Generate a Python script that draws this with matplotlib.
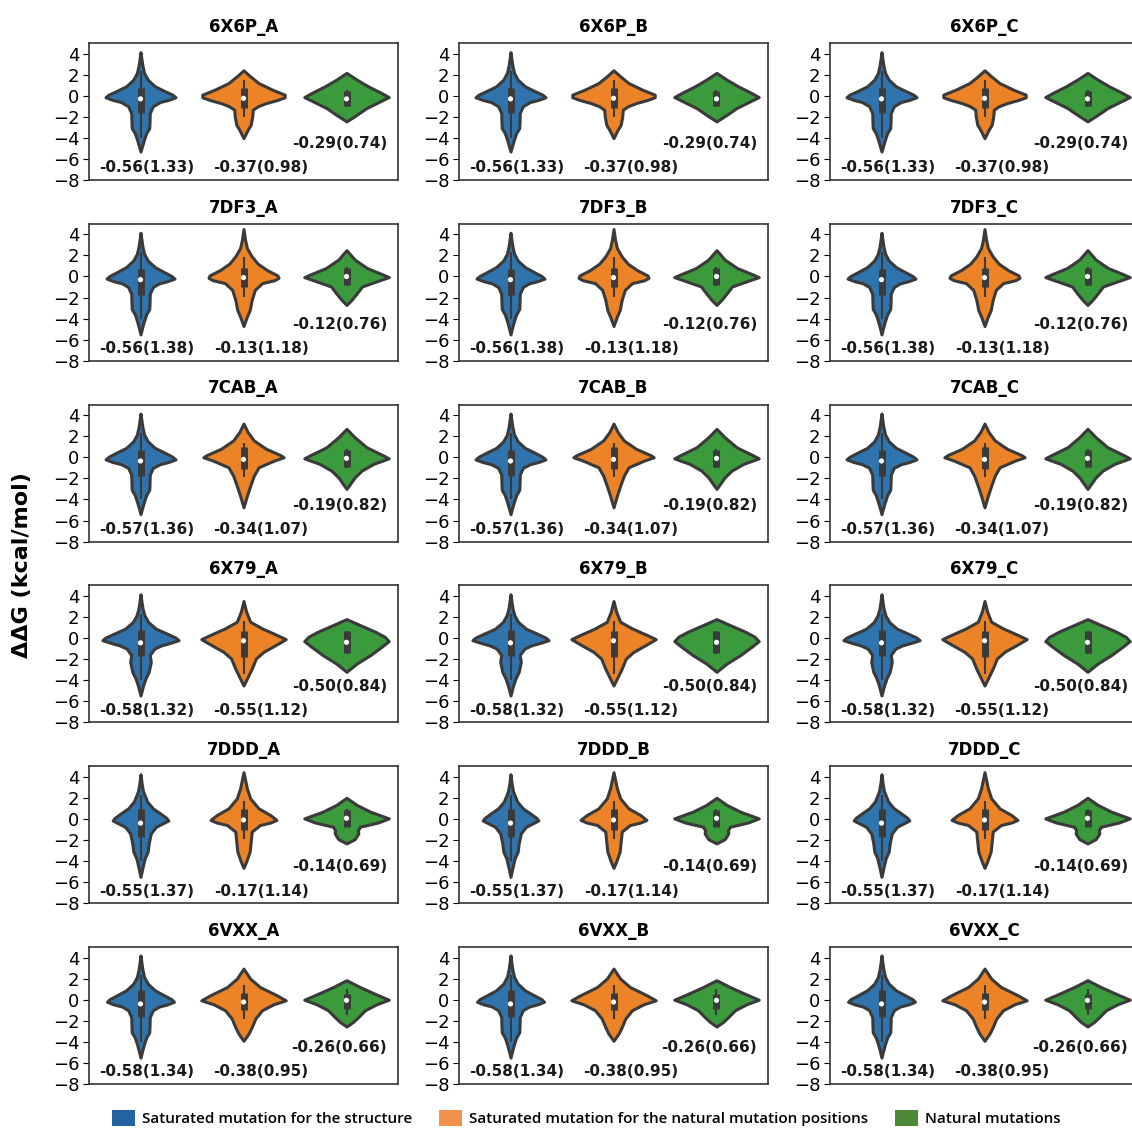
import matplotlib
matplotlib.use("Agg")
import matplotlib.pyplot as plt
from matplotlib.patches import Patch

# structures (rows) and chains (columns)
structures = ["6X6P", "7DF3", "7CAB", "6X79", "7DDD", "6VXX"]
chains = ["A", "B", "C"]

groups = ["Saturated mutation for the structure",
          "Saturated mutation for the natural mutation positions",
          "Natural mutations"]
violin_colors = ["#2f74ad", "#ec8427", "#3b9a3b"]
legend_colors = ["#2462a2", "#f0914c", "#4e8a36"]

# mean(std) of ddG per group
means = {
    "6X6P": [-0.56, -0.37, -0.29],
    "7DF3": [-0.56, -0.13, -0.12],
    "7CAB": [-0.57, -0.34, -0.19],
    "6X79": [-0.58, -0.55, -0.50],
    "7DDD": [-0.55, -0.17, -0.14],
    "6VXX": [-0.58, -0.38, -0.26],
}
stds = {
    "6X6P": [1.33, 0.98, 0.74],
    "7DF3": [1.38, 1.18, 0.76],
    "7CAB": [1.36, 1.07, 0.82],
    "6X79": [1.32, 1.12, 0.84],
    "7DDD": [1.37, 1.14, 0.69],
    "6VXX": [1.34, 0.95, 0.66],
}

# kernel density outlines: (ddG, half width) pairs
blue_kde = {
    "6X6P": [(4.13, 0), (3.3, 0.012), (2.8, 0.02), (2.16, 0.035), (1.52, 0.07), (0.89, 0.14), (0.41, 0.24),
             (0.1, 0.31), (-0.15, 0.34), (-0.4, 0.27), (-0.6, 0.19), (-1.0, 0.12), (-1.65, 0.09),
             (-2.44, 0.088), (-3.08, 0.085), (-3.56, 0.055), (-4.19, 0.033), (-4.8, 0.015), (-5.3, 0)],
    "7DF3": [(4.15, 0), (3.3, 0.012), (2.8, 0.02), (2.16, 0.035), (1.52, 0.07), (0.89, 0.14), (0.41, 0.23),
             (0.05, 0.3), (-0.2, 0.33), (-0.45, 0.26), (-0.65, 0.18), (-1.0, 0.12), (-1.65, 0.09),
             (-2.44, 0.088), (-3.08, 0.085), (-3.6, 0.055), (-4.25, 0.033), (-4.9, 0.015), (-5.5, 0)],
    "7CAB": [(4.15, 0), (3.3, 0.012), (2.8, 0.02), (2.16, 0.035), (1.52, 0.07), (0.89, 0.14), (0.41, 0.24),
             (0.05, 0.31), (-0.2, 0.34), (-0.45, 0.27), (-0.65, 0.19), (-1.0, 0.12), (-1.65, 0.09),
             (-2.44, 0.088), (-3.08, 0.085), (-3.6, 0.055), (-4.25, 0.033), (-4.85, 0.015), (-5.4, 0)],
    "6X79": [(4.16, 0), (3.3, 0.012), (2.8, 0.02), (2.16, 0.038), (1.52, 0.075), (0.89, 0.15), (0.41, 0.26),
             (0.05, 0.34), (-0.2, 0.37), (-0.45, 0.29), (-0.7, 0.2), (-1.0, 0.135), (-1.6, 0.09),
             (-2.25, 0.1), (-3.2, 0.08), (-3.8, 0.05), (-4.5, 0.025), (-5.45, 0)],
    "7DDD": [(4.24, 0), (3.3, 0.012), (2.6, 0.025), (1.64, 0.065), (1.0, 0.12), (0.53, 0.19), (0.1, 0.25),
             (-0.15, 0.27), (-0.4, 0.22), (-0.75, 0.15), (-1.38, 0.1), (-2.3, 0.08), (-3.1, 0.07),
             (-3.76, 0.04), (-4.6, 0.02), (-5.5, 0)],
    "6VXX": [(4.2, 0), (3.3, 0.012), (2.8, 0.02), (2.16, 0.035), (1.52, 0.07), (0.89, 0.14), (0.41, 0.23),
             (0.05, 0.3), (-0.2, 0.325), (-0.45, 0.26), (-0.65, 0.18), (-1.0, 0.12), (-1.65, 0.09),
             (-2.44, 0.088), (-3.1, 0.085), (-3.6, 0.055), (-4.25, 0.033), (-4.9, 0.015), (-5.5, 0)],
}
orange_kde = {
    "6X6P": [(2.41, 0), (1.84, 0.065), (1.2, 0.146), (0.57, 0.28), (0.1, 0.4), (-0.15, 0.4), (-0.4, 0.33),
             (-0.7, 0.22), (-1.0, 0.14), (-1.33, 0.09), (-1.97, 0.085), (-2.76, 0.07), (-3.24, 0.04), (-4.03, 0)],
    "7DF3": [(4.5, 0), (3.5, 0.015), (2.7, 0.033), (1.9, 0.08), (1.2, 0.14), (0.6, 0.23), (0.1, 0.33),
             (-0.13, 0.34), (-0.35, 0.3), (-0.63, 0.18), (-1.27, 0.11), (-2.2, 0.08), (-3.2, 0.06),
             (-3.8, 0.033), (-4.7, 0)],
    "7CAB": [(3.2, 0), (2.4, 0.04), (1.6, 0.1), (0.8, 0.22), (0.2, 0.36), (0.0, 0.39), (-0.3, 0.3),
             (-0.95, 0.146), (-1.75, 0.1), (-2.7, 0.065), (-3.65, 0.033), (-4.75, 0)],
    "6X79": [(3.52, 0), (2.5, 0.026), (1.55, 0.065), (0.92, 0.18), (0.29, 0.325), (-0.1, 0.41),
             (-0.67, 0.31), (-1.3, 0.195), (-1.94, 0.12), (-2.9, 0.08), (-3.84, 0.033), (-4.5, 0)],
    "7DDD": [(4.43, 0), (2.9, 0.033), (1.95, 0.065), (1.0, 0.146), (0.37, 0.26), (-0.1, 0.32),
             (-0.35, 0.26), (-0.58, 0.16), (-1.2, 0.08), (-2.15, 0.07), (-3.1, 0.06), (-4.05, 0.026), (-4.65, 0)],
    "6VXX": [(2.95, 0), (2.0, 0.065), (1.2, 0.16), (0.41, 0.325), (-0.06, 0.41), (-0.44, 0.29), (-1.0, 0.18),
             (-1.8, 0.114), (-2.6, 0.08), (-3.2, 0.05), (-3.9, 0)],
}
green_kde = {
    "6X6P": [(2.16, 0), (1.52, 0.1), (0.89, 0.21), (0.25, 0.34), (-0.13, 0.41), (-0.54, 0.325),
             (-1.17, 0.195), (-1.81, 0.1), (-2.44, 0)],
    "7DF3": [(2.5, 0), (1.6, 0.08), (0.8, 0.2), (0.16, 0.36), (-0.06, 0.41), (-0.5, 0.28), (-0.95, 0.15),
             (-1.6, 0.1), (-2.2, 0.05), (-2.7, 0)],
    "7CAB": [(2.7, 0), (1.9, 0.08), (0.95, 0.195), (0.16, 0.36), (-0.1, 0.41), (-0.63, 0.26), (-1.27, 0.146),
             (-1.9, 0.08), (-2.55, 0.033), (-3.0, 0)],
    "6X79": [(1.8, 0), (1.24, 0.13), (0.6, 0.28), (0.13, 0.37), (-0.29, 0.41), (-0.83, 0.34), (-1.62, 0.23),
             (-2.41, 0.1), (-3.2, 0)],
    "7DDD": [(2.0, 0), (1.32, 0.1), (0.69, 0.23), (0.05, 0.41), (-0.33, 0.31), (-0.75, 0.13), (-1.1, 0.11),
             (-1.38, 0.115), (-1.92, 0.08), (-2.33, 0)],
    "6VXX": [(1.85, 0), (1.2, 0.13), (0.5, 0.29), (0.0, 0.41), (-0.44, 0.29), (-1.0, 0.18), (-1.65, 0.114),
             (-2.1, 0.065), (-2.55, 0)],
}

# inner box: (q1, q3, whisker low, whisker high, median)
blue_box = {
    "6X6P": (-1.65, 0.73, -4.0, 2.3, -0.3),
    "7DF3": (-1.75, 0.70, -4.0, 2.3, -0.3),
    "7CAB": (-1.75, 0.70, -4.0, 2.3, -0.35),
    "6X79": (-1.70, 0.75, -4.0, 2.3, -0.45),
    "7DDD": (-1.70, 0.95, -4.0, 2.3, -0.4),
    "6VXX": (-1.60, 0.90, -4.0, 2.3, -0.4),
}
orange_box = {
    "6X6P": (-1.17, 0.73, -2.0, 1.5, -0.25),
    "7DF3": (-1.00, 0.80, -1.9, 1.85, -0.1),
    "7CAB": (-1.10, 0.95, -1.9, 1.4, -0.2),
    "6X79": (-1.80, 0.70, -3.4, 1.65, -0.25),
    "7DDD": (-1.10, 0.95, -1.9, 1.7, -0.1),
    "6VXX": (-1.00, 0.63, -1.8, 1.35, -0.22),
}
green_box = {
    "6X6P": (-1.00, 0.40, -1.1, 0.5, -0.3),
    "7DF3": (-0.80, 0.80, -0.9, 0.9, 0.0),
    "7CAB": (-0.95, 0.70, -1.0, 0.8, -0.1),
    "6X79": (-1.45, 0.63, -1.5, 0.7, -0.4),
    "7DDD": (-0.73, 0.80, -0.8, 0.9, 0.06),
    "6VXX": (-0.86, 0.57, -1.5, 1.0, -0.06),
}

kdes = [blue_kde, orange_kde, green_kde]
boxes = [blue_box, orange_box, green_box]

# where the mean(std) labels sit
label_x = [0.06, 1.17, 1.93]
label_y = [-6.85, -6.85, -4.55]

W, H = 1132, 1128
fig = plt.figure(figsize=(W / 100, H / 100), dpi=100)

col_left = [89, 459, 830]
ax_w, ax_h = 309, 137
row_top0, row_step = 43, 180.8
edge = "#3a3a3a"

for r, s in enumerate(structures):
    for c, ch in enumerate(chains):
        top = row_top0 + r * row_step
        ax = fig.add_axes([col_left[c] / W, 1 - (top + ax_h) / H, ax_w / W, ax_h / H])
        for g in range(3):
            ys = [p[0] for p in kdes[g][s]]
            hw = [p[1] for p in kdes[g][s]]
            q1, q3, wlo, whi, med = boxes[g][s]
            stats = [dict(coords=ys, vals=hw, mean=means[s][g], median=med,
                          min=min(ys), max=max(ys))]
            parts = ax.violin(stats, positions=[g], widths=[2 * max(hw)],
                              showmeans=False, showextrema=False, showmedians=False)
            for body in parts["bodies"]:
                body.set_facecolor(violin_colors[g])
                body.set_edgecolor(edge)
                body.set_linewidth(2.2)
                body.set_joinstyle("round")
                body.set_alpha(1)
            ax.vlines(g, wlo, whi, color=edge, lw=1.5, zorder=3)
            ax.vlines(g, q1, q3, color=edge, lw=5, zorder=3)
            ax.scatter([g], [med], s=14, color="white", zorder=4, edgecolors="none")
            ax.text(label_x[g], label_y[g], f"{means[s][g]:.2f}({stds[s][g]:.2f})",
                    ha="center", va="center", fontsize=11, fontweight="bold", color="#1a1a1a")
        ax.set_xlim(-0.5, 2.5)
        ax.set_ylim(-8, 5)
        ax.set_yticks(range(-8, 5, 2))
        ax.set_xticks([])
        ax.tick_params(axis="y", labelsize=13, length=4.5, pad=2.5)
        for sp in ax.spines.values():
            sp.set_color("#333333")
            sp.set_linewidth(1.2)
        ax.set_title(f"{s}_{ch}", fontsize=12, fontweight="bold", pad=8)

fig.text(22 / W, 1 - 565 / H, "\u0394\u0394G (kcal/mol)", rotation=90, ha="center", va="center",
         fontsize=16, fontweight="bold")

handles = [Patch(facecolor=legend_colors[i], edgecolor="none") for i in range(3)]
fig.legend(handles, groups, loc="center", bbox_to_anchor=(0.518, 1 - 1118 / H), ncol=3, frameon=False,
           handlelength=1.5, handleheight=1.2, handletextpad=0.45, columnspacing=1.75,
           prop=dict(family="Open Sans", weight="semibold", size=11))

fig.savefig("out.png", dpi=100)
